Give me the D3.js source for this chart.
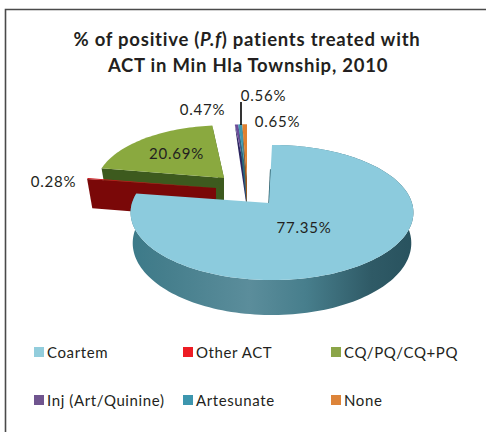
<!DOCTYPE html>
<html>
<head>
<meta charset="utf-8">
<script src="https://cdn.jsdelivr.net/npm/d3@7"></script>
<style>
html,body{margin:0;padding:0;background:#fff}
svg{display:block}
text{font-family:Lato,"Open Sans",sans-serif;fill:#231f20}
</style>
</head>
<body>
<svg id="c" width="486" height="432"></svg>
<script>
const categories = ["Coartem","Other ACT","CQ/PQ/CQ+PQ","Inj (Art/Quinine)","Artesunate","None"];
const shares = [77.35,0.28,20.69,0.47,0.56,0.65];
const valueLabels = ["77.35%","0.28%","20.69%","0.47%","0.56%","0.65%"];
const topColors = ["#8ccbdd","#c8141a","#8aa93f","#6b4c9a","#3f99b0","#e08030"];
const legendColors = ["#92cddc","#ed1c24","#8ba548","#70558f","#3d96ae","#dd8439"];
const sideColors = ["url(#coSide)","#7a0808","#3d5a1e","#2c2560","#2a6a7a","#a05a20"];

// layout
const apex = [[269,203],[216,188],[224,178],[247,179],[247,179],[247,179]];
const radius = [140,133,127,132,132,132];
const rimShift = [3,0,0,0,0,0];
const taper = [0.985,0.96,0.96,0.7,0.7,0.7];
const labelPos = [[304,228],[53.5,182],[176.5,154],[202.5,110],[263.5,96],[277.5,122]];
const legendX = [34,183,331], legendY = [352,400];
const K = 0.141, FLAT = 0.473, H = 30;

const svg = d3.select("#c");
const color = d3.scaleOrdinal().domain(categories).range(topColors);
const legendColor = d3.scaleOrdinal().domain(categories).range(legendColors);
const side = d3.scaleOrdinal().domain(categories).range(sideColors);
const arcs = d3.pie().sort(null).value(d=>d)(shares);

const defs = svg.append("defs");
const g = defs.append("linearGradient").attr("id","coSide")
  .attr("gradientUnits","userSpaceOnUse").attr("x1",130).attr("x2",414).attr("y1",0).attr("y2",0);
[[0,"#3c7a89"],[0.12,"#457e8c"],[0.42,"#5b8d9b"],[0.62,"#477e8c"],[0.85,"#2f5a66"],[1,"#28525e"]]
  .forEach(s=>g.append("stop").attr("offset",s[0]).attr("stop-color",s[1]));

svg.append("path").attr("d","M486,9.5H5.5V432").attr("fill","none").attr("stroke","#4a4a4a").attr("stroke-width",1.6);

// project a polar pie position to the page (front of the disc appears larger)
function proj(i,a,r,drop){
  const u=Math.sin(a)*r, v=-Math.cos(a)*r, s=1/(1-K*v);
  const h=drop?H*s:0;
  const tp=drop?taper[i]:1;
  return [apex[i][0]+rimShift[i]*r+radius[i]*u*s*tp, apex[i][1]+radius[i]*FLAT*v*s+h];
}
const line=d3.line();
function rim(i,a0,a1,drop){
  const n=Math.max(2,Math.ceil((a1-a0)/0.03));
  return d3.range(n+1).map(k=>proj(i,a0+(a1-a0)*k/n,1,drop));
}
function topFace(i,d){ return line([proj(i,0,0,false),...rim(i,d.startAngle,d.endAngle,false)])+"Z"; }
function cut(i,a){ return line([proj(i,0,0,false),proj(i,a,1,false),proj(i,a,1,true),proj(i,0,0,true)])+"Z"; }
function band(i,d){ return line([...rim(i,d.startAngle,d.endAngle,false),...rim(i,d.startAngle,d.endAngle,true).reverse()])+"Z"; }

const order=[2,1,3,4,5,0];
order.forEach(i=>{
  const d=arcs[i], c=categories[i];
  const gg=svg.append("g");
  if(i===0){
    gg.append("path").attr("d",band(i,d)).attr("fill",side(c));
    gg.append("path").attr("d",line([proj(i,0,0,false),proj(i,0,0.55,false)])).attr("stroke","#2e5f6b").attr("stroke-width",1.4).attr("fill","none");
  } else if(i===1){
    gg.append("path").attr("d",cut(i,d.startAngle)).attr("fill",side(c));
  } else if(i===2){
    gg.append("path").attr("d",cut(i,d.startAngle)).attr("fill",side(c));
    gg.append("path").attr("d",cut(i,d.endAngle)).attr("fill",side(c));
  } else {
    gg.append("path").attr("d",cut(i,d.startAngle)).attr("fill",side(c));
  }
  gg.append("path").attr("d",topFace(i,d)).attr("fill",color(c));
});

svg.append("line").attr("x1",241).attr("x2",241).attr("y1",102).attr("y2",125).attr("stroke","#000").attr("stroke-width",1.6);

// title
const t=svg.append("text").attr("text-anchor","middle").attr("font-size",18.5).attr("font-weight",700).attr("letter-spacing",0.75);
const l1=t.append("tspan").attr("x",247).attr("y",46);
l1.append("tspan").text("% of positive (");
l1.append("tspan").attr("font-style","italic").text("P.f");
l1.append("tspan").text(") patients treated with");
t.append("tspan").attr("x",248).attr("y",72).text("ACT in Min Hla Township, 2010");

// value labels
svg.selectAll("text.v").data(valueLabels).join("text").attr("class","v")
  .attr("x",(d,i)=>labelPos[i][0]).attr("y",(d,i)=>labelPos[i][1]+5)
  .attr("text-anchor","middle").attr("font-size",15).attr("letter-spacing",0.8).text(d=>d);

// legend
const leg=svg.selectAll("g.l").data(categories).join("g").attr("class","l")
  .attr("transform",(d,i)=>`translate(${legendX[i%3]},${legendY[Math.floor(i/3)]})`);
leg.append("rect").attr("x",0).attr("y",-5).attr("width",10).attr("height",10).attr("fill",d=>legendColor(d));
leg.append("text").attr("x",13).attr("y",5.5).attr("font-size",15).attr("letter-spacing",0.6).text(d=>d);
</script>
</body>
</html>
